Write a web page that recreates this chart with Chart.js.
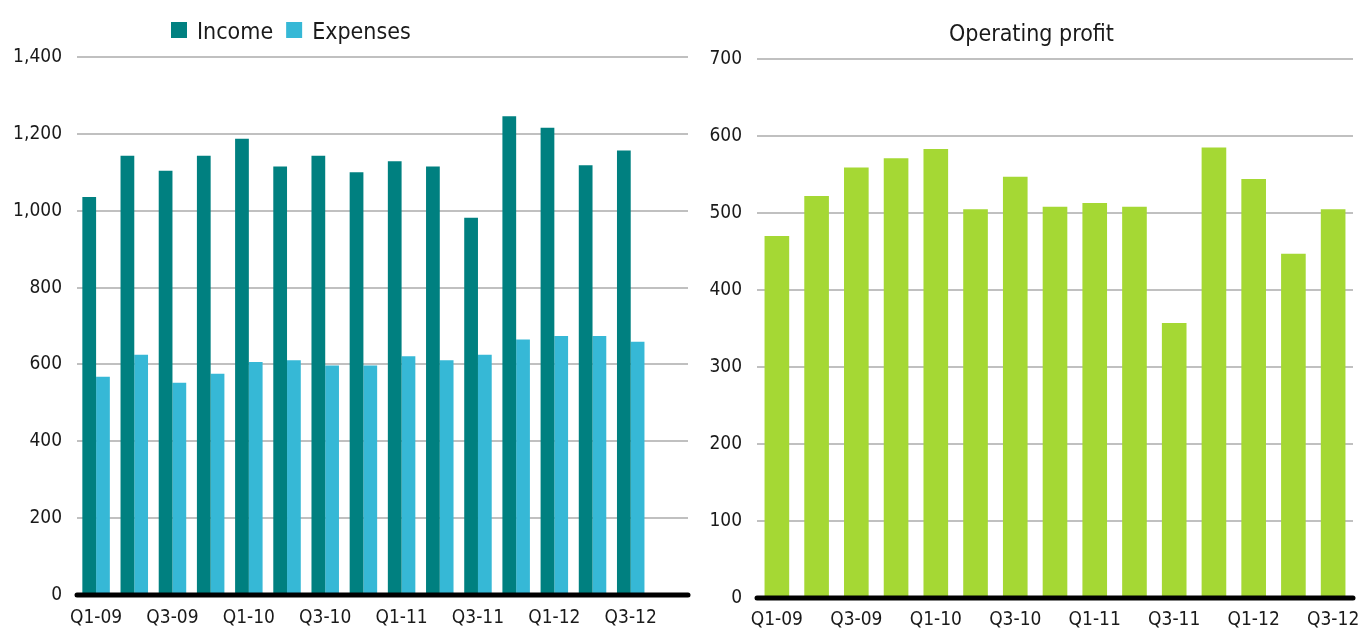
<!DOCTYPE html>
<html>
<head>
<meta charset="utf-8">
<title>Income, expenses and operating profit</title>
<script src="https://cdn.jsdelivr.net/npm/chart.js@4.4.0/dist/chart.umd.min.js"></script>
<style>
  html, body { margin: 0; padding: 0; background: #fff; overflow: hidden; }
  #incomeChart { position: absolute; left: 0; top: 0; }
  #profitChart { position: absolute; left: 700px; top: 0; }
</style>
</head>
<body>
<canvas id="incomeChart" width="700" height="631"></canvas>
<canvas id="profitChart" width="661" height="631"></canvas>
<script>
// Quarterly figures
const quarters = ['Q1-09', 'Q2-09', 'Q3-09', 'Q4-09', 'Q1-10', 'Q2-10', 'Q3-10', 'Q4-10',
                  'Q1-11', 'Q2-11', 'Q3-11', 'Q4-11', 'Q1-12', 'Q2-12', 'Q3-12'];
// left chart keeps an empty slot for the quarter that has no figures yet
const incomeQuarters = [...quarters, 'Q4-12'];
const income   = [1036, 1143, 1104, 1143, 1187, 1115, 1143, 1100, 1129, 1115, 982, 1246, 1216, 1118, 1157];
const expenses = [568, 625, 552, 576, 606, 611, 597, 597, 621, 611, 625, 665, 674, 674, 659];
const profit   = [470, 522, 559, 571, 583, 505, 547, 508, 513, 508, 357, 585, 544, 447, 505];

const FONT = '"Liberation Sans Narrow", "DejaVu Sans Condensed", "Liberation Sans", sans-serif';
const TEXT = '#1a1a1a';
const GRID = '#c0c0c0';

Chart.defaults.font.family = FONT;
Chart.defaults.color = TEXT;

// thick black zero line drawn over the bars
const baseline = {
    id: 'baseline',
    afterDatasetsDraw(chart) {
        const { ctx, chartArea } = chart;
        const y = chart.scales.y.getPixelForValue(0);
        ctx.save();
        ctx.strokeStyle = '#000';
        ctx.lineWidth = 5;
        ctx.lineCap = 'round';
        ctx.beginPath();
        ctx.moveTo(chartArea.left, y);
        ctx.lineTo(chartArea.right, y);
        ctx.stroke();
        ctx.restore();
    }
};

// legend sits above the left part of the plot
const topLegend = {
    id: 'topLegend',
    afterDraw(chart) {
        const ctx = chart.ctx;
        ctx.save();
        ctx.font = '23px ' + FONT;
        ctx.textBaseline = 'alphabetic';
        let x = 171;
        chart.data.datasets.forEach(ds => {
            ctx.fillStyle = ds.backgroundColor;
            ctx.fillRect(x, 22, 16, 16);
            ctx.fillStyle = TEXT;
            ctx.fillText(ds.label, x + 26, 38.5);
            x += 26 + ctx.measureText(ds.label).width + 13;
        });
        ctx.restore();
    }
};

function everyOther(value, index) {
    return index % 2 === 0 ? this.getLabelForValue(value) : '';
}

// Income vs expenses
new Chart(document.getElementById('incomeChart'), {
    type: 'bar',
    data: {
        labels: incomeQuarters,
        datasets: [
            { label: 'Income', data: income, backgroundColor: '#008080' },
            { label: 'Expenses', data: expenses, backgroundColor: '#36b8d6' }
        ]
    },
    options: {
        responsive: false,
        animation: false,
        layout: { padding: { top: 57, right: 12, left: 0, bottom: 0 } },
        datasets: { bar: { categoryPercentage: 0.72, barPercentage: 1.0, borderWidth: 0 } },
        plugins: { legend: { display: false }, tooltip: { enabled: false } },
        scales: {
            x: {
                grid: { display: false, drawTicks: false },
                border: { display: false },
                afterFit: s => { s.height = 36; s.paddingLeft = 0; s.paddingRight = 0; },
                ticks: { autoSkip: false, maxRotation: 0, minRotation: 0, padding: 12,
                         font: { size: 19 }, callback: everyOther }
            },
            y: {
                min: 0, max: 1400,
                grid: { color: GRID, lineWidth: 2, drawTicks: false },
                border: { display: false },
                afterFit: s => { s.width = 77; },
                ticks: { stepSize: 200, padding: 15, font: { size: 19 } }
            }
        }
    },
    plugins: [baseline, topLegend]
});

// Operating profit
new Chart(document.getElementById('profitChart'), {
    type: 'bar',
    data: {
        labels: quarters,
        datasets: [
            { label: 'Operating profit', data: profit, backgroundColor: '#a5d834' }
        ]
    },
    options: {
        responsive: false,
        animation: false,
        layout: { padding: { top: 0, right: 8, left: 10, bottom: 0 } },
        datasets: { bar: { categoryPercentage: 0.62, barPercentage: 1.0, borderWidth: 0 } },
        plugins: {
            legend: { display: false },
            tooltip: { enabled: false },
            title: {
                display: true,
                text: 'Operating profit',
                color: TEXT,
                font: { size: 23, weight: 'normal', lineHeight: 1.2 },
                padding: { top: 21, bottom: 10.4 }
            }
        },
        scales: {
            x: {
                grid: { display: false, drawTicks: false },
                border: { display: false },
                afterFit: s => { s.height = 33; s.paddingLeft = 0; s.paddingRight = 0; },
                ticks: { autoSkip: false, maxRotation: 0, minRotation: 0, padding: 11,
                         font: { size: 19 }, callback: everyOther }
            },
            y: {
                min: 0, max: 700,
                grid: { color: GRID, lineWidth: 2, drawTicks: false },
                border: { display: false },
                afterFit: s => { s.width = 47; },
                ticks: { stepSize: 100, padding: 15, font: { size: 19 } }
            }
        }
    },
    plugins: [baseline]
});
</script>
</body>
</html>
